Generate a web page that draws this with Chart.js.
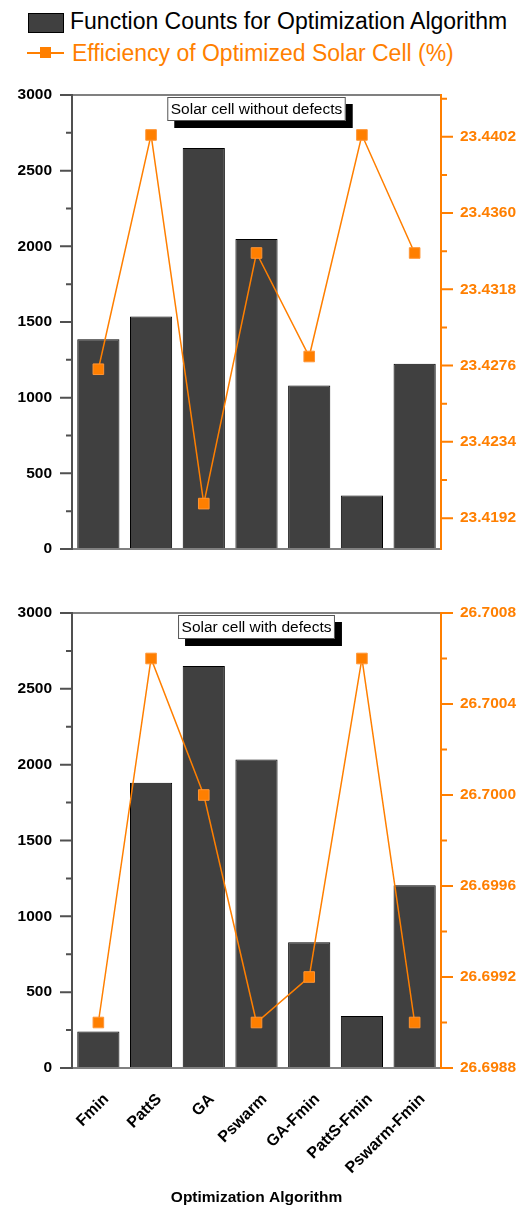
<!DOCTYPE html>
<html>
<head>
<meta charset="utf-8">
<script src="https://cdn.jsdelivr.net/npm/chart.js@4.4.0/dist/chart.umd.min.js"></script>
<style>
  html, body { margin: 0; padding: 0; background: #fff; }
  body { width: 525px; height: 1210px; position: relative; overflow: hidden;
         font-family: "Liberation Sans", Arial, sans-serif; }
  .lg-text { position: absolute; font-size: 23px; line-height: 26px; white-space: nowrap; }
  .lg-box { position: absolute; left: 28px; top: 13px; width: 34px; height: 18px;
            background: #404040; border: 1px solid #000; }
  .lg-line { position: absolute; left: 27px; top: 51.5px; width: 37px; height: 2px; background: #ff7f00; }
  .lg-mark { position: absolute; left: 40px; top: 47px; width: 11px; height: 11px; background: #ff7f00; }
  canvas { position: absolute; left: 0; }
</style>
</head>
<body>
<div class="lg-box"></div>
<div class="lg-text" id="lg0" style="left:70px; top:8px; color:#000;"></div>
<div class="lg-line"></div>
<div class="lg-mark"></div>
<div class="lg-text" id="lg1" style="left:72px; top:40px; color:#ff7f00;"></div>

<canvas id="chartNoDefect" width="525" height="480" style="top:80px;"></canvas>
<canvas id="chartDefect" width="525" height="620" style="top:590px;"></canvas>

<script>
// Categories and series
const algorithms = ['Fmin', 'PattS', 'GA', 'Pswarm', 'GA-Fmin', 'PattS-Fmin', 'Pswarm-Fmin'];
const seriesNames = ['Function Counts for Optimization Algorithm', 'Efficiency of Optimized Solar Cell (%)'];
const xTitle = 'Optimization Algorithm';
const captions = ['Solar cell without defects', 'Solar cell with defects'];

// Panel 1: solar cell without defects
const countsNoDefect = [1386, 1536, 2650, 2049, 1080, 354, 1224];
const effNoDefect = [23.4274, 23.4403, 23.4200, 23.4338, 23.4281, 23.4403, 23.4338];

// Panel 2: solar cell with defects
const countsDefect = [240, 1880, 2650, 2034, 829, 343, 1205];
const effDefect = [26.6990, 26.7006, 26.7000, 26.6990, 26.6992, 26.7006, 26.6990];

// Tick labels
const countTicks = [0, 500, 1000, 1500, 2000, 2500, 3000];
const effTicksNoDefect = [23.4192, 23.4234, 23.4276, 23.4318, 23.4360, 23.4402];
const effTicksDefect = [26.6988, 26.6992, 26.6996, 26.7000, 26.7004, 26.7008];

// Axis ranges
const countRange = [0, 3000];
const effRangeNoDefect = [23.4175, 23.4425];
const effRangeDefect = [26.6988, 26.7008];

const ORANGE = '#ff7f00';
const FAMILY = '"Liberation Sans", Arial, sans-serif';

document.getElementById('lg0').textContent = seriesNames[0];
document.getElementById('lg1').textContent = seriesNames[1];

// minor ticks halfway between labelled ticks, plus one step beyond either end when inside the range
function minorTicks(major, min, max) {
  const out = [];
  const half = (major[1] - major[0]) / 2;
  if (major[0] - half >= min - 1e-9) out.push(major[0] - half);
  for (let i = 0; i < major.length - 1; i++) out.push((major[i] + major[i + 1]) / 2);
  const last = major[major.length - 1];
  if (last + half <= max + 1e-9) out.push(last + half);
  return out;
}

// frame lines and outward tick marks of both value axes
const axisFrame = {
  id: 'axisFrame',
  afterDraw(chart) {
    const { ctx, chartArea: a, scales } = chart;
    const yc = scales.yCount, ye = scales.yEff;
    ctx.save();
    ctx.lineCap = 'butt';
    ctx.lineWidth = 2;
    // top and bottom frame lines
    ctx.strokeStyle = '#808080';
    ctx.beginPath();
    ctx.moveTo(a.left, a.top); ctx.lineTo(a.right, a.top);
    ctx.moveTo(a.left, a.bottom); ctx.lineTo(a.right, a.bottom);
    ctx.stroke();
    // left axis
    ctx.strokeStyle = '#505050';
    ctx.beginPath();
    ctx.moveTo(a.left, a.top - 1); ctx.lineTo(a.left, a.bottom + 1);
    countTicks.forEach(v => { const y = yc.getPixelForValue(v); ctx.moveTo(a.left - 12, y); ctx.lineTo(a.left, y); });
    minorTicks(countTicks, yc.min, yc.max).forEach(v => { const y = yc.getPixelForValue(v); ctx.moveTo(a.left - 6, y); ctx.lineTo(a.left, y); });
    ctx.stroke();
    // right axis
    const effTicks = chart.options.plugins.axisFrame.effTicks;
    ctx.strokeStyle = ORANGE;
    ctx.beginPath();
    ctx.moveTo(a.right, a.top - 1); ctx.lineTo(a.right, a.bottom + 1);
    effTicks.forEach(v => { const y = ye.getPixelForValue(v); ctx.moveTo(a.right, y); ctx.lineTo(a.right + 12, y); });
    minorTicks(effTicks, ye.min, ye.max).forEach(v => { const y = ye.getPixelForValue(v); ctx.moveTo(a.right, y); ctx.lineTo(a.right + 6, y); });
    ctx.stroke();
    ctx.restore();
  }
};

// caption box with drop shadow at the top centre of the plot
const captionBox = {
  id: 'captionBox',
  afterDraw(chart, args, opts) {
    const { ctx, chartArea: a } = chart;
    ctx.save();
    ctx.font = '15.5px ' + FAMILY;
    const w = ctx.measureText(opts.text).width + 7;
    const h = 24;
    const x = (a.left + a.right) / 2 - w / 2;
    const y = a.top + 2;
    ctx.fillStyle = '#000';
    ctx.fillRect(x + 7, y + 7, w, h);
    ctx.fillStyle = '#fff';
    ctx.fillRect(x, y, w, h);
    ctx.strokeStyle = '#555';
    ctx.lineWidth = 1;
    ctx.strokeRect(x + 0.5, y + 0.5, w - 1, h - 1);
    ctx.fillStyle = '#000';
    ctx.textAlign = 'center';
    ctx.textBaseline = 'middle';
    ctx.fillText(opts.text, x + w / 2, y + h / 2 + 1);
    ctx.restore();
  }
};

function buildChart(id, counts, eff, effRange, effTicks, caption, withXLabels, padTop, xHeight) {
  const tickFont = { family: FAMILY, size: 15.5, weight: 'bold' };
  return new Chart(document.getElementById(id), {
    data: {
      labels: algorithms,
      datasets: [
        {
          type: 'line', label: seriesNames[1], data: eff, yAxisID: 'yEff', order: 0,
          borderColor: ORANGE, borderWidth: 1.5, backgroundColor: ORANGE,
          pointStyle: 'rect', pointRadius: 7.5, pointHoverRadius: 7.5,
          pointBorderColor: '#ff9433', pointBorderWidth: 1, tension: 0
        },
        {
          type: 'bar', label: seriesNames[0], data: counts, yAxisID: 'yCount', order: 1,
          backgroundColor: '#404040', borderColor: '#000', borderWidth: 1,
          barPercentage: 0.8, categoryPercentage: 1
        }
      ]
    },
    options: {
      responsive: false, animation: false, devicePixelRatio: 1,
      layout: { padding: { top: padTop, left: 0, right: 0, bottom: 0 } },
      plugins: {
        legend: { display: false }, tooltip: { enabled: false },
        captionBox: { text: caption },
        axisFrame: { effTicks: effTicks }
      },
      scales: {
        x: {
          type: 'category', position: 'bottom', offset: true,
          grid: { display: false, drawTicks: false }, border: { display: false },
          ticks: {
            display: withXLabels, autoSkip: false, minRotation: 45, maxRotation: 45,
            labelOffset: 8, padding: 22, color: '#000',
            font: { family: FAMILY, size: 16, weight: 'bold' }
          },
          title: {
            display: withXLabels, text: xTitle, color: '#000',
            font: { family: FAMILY, size: 15.5, weight: 'bold' }, padding: { top: 0, bottom: 3 }
          },
          afterFit(s) { s.height = xHeight; s.paddingLeft = 0; s.paddingRight = 0; }
        },
        yCount: {
          type: 'linear', position: 'left', min: countRange[0], max: countRange[1],
          grid: { display: false, drawTicks: false }, border: { display: false },
          afterBuildTicks(s) { s.ticks = countTicks.map(v => ({ value: v })); },
          ticks: { padding: 20, color: '#000', font: tickFont, callback: v => String(v) },
          afterFit(s) { s.width = 72; s.paddingTop = 0; s.paddingBottom = 0; }
        },
        yEff: {
          type: 'linear', position: 'right', min: effRange[0], max: effRange[1],
          grid: { display: false, drawTicks: false }, border: { display: false },
          afterBuildTicks(s) { s.ticks = effTicks.map(v => ({ value: v })); },
          ticks: { padding: 19, color: ORANGE, font: tickFont, callback: v => Number(v).toFixed(4) },
          afterFit(s) { s.width = 84; s.paddingTop = 0; s.paddingBottom = 0; }
        }
      }
    },
    plugins: [axisFrame, captionBox]
  });
}

buildChart('chartNoDefect', countsNoDefect, effNoDefect, effRangeNoDefect, effTicksNoDefect, captions[0], false, 15, 11);
buildChart('chartDefect', countsDefect, effDefect, effRangeDefect, effTicksDefect, captions[1], true, 23, 142);
</script>
</body>
</html>
